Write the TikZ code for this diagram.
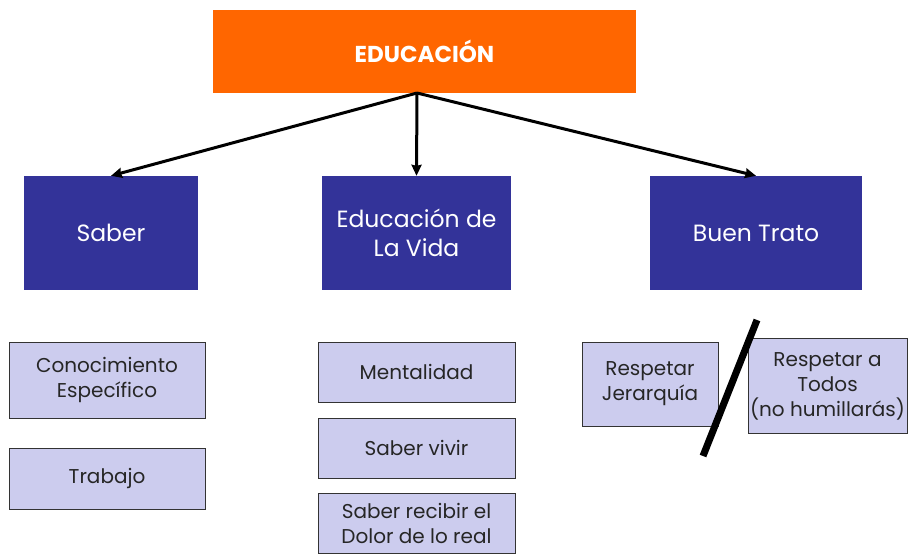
\documentclass[tikz,border=0pt]{standalone}
\usepackage{fontspec}
\setmainfont{Poppins}
\usetikzlibrary{arrows.meta}
\definecolor{orangebox}{HTML}{FF6600}
\definecolor{bluebox}{HTML}{333399}
\definecolor{lavbox}{HTML}{CCCCEE}
\definecolor{lavedge}{HTML}{333333}
\tikzset{
  topbox/.style={fill=orangebox, draw=none, text=white, font=\fontsize{23}{28}\selectfont\bfseries, inner sep=0pt, align=center},
  midbox/.style={fill=bluebox, draw=none, text=white, font=\fontsize{23.5}{29}\selectfont, inner sep=0pt, align=center, minimum height=114pt},
  leafbox/.style={fill=lavbox, draw=lavedge, line width=0.8pt, text=black!85, font=\fontsize{20}{25}\selectfont, inner sep=0pt, align=center},
  conn/.style={line width=3pt, -{Stealth[length=11pt,width=10pt,inset=1pt]}}
}
\begin{document}
\begin{tikzpicture}[x=1pt,y=-1pt]
\useasboundingbox (0,0) rectangle (908,556);
\node[topbox, minimum width=423pt, minimum height=83pt] (edu) at (424.5,51.5) {EDUCACIÓN};
\node[midbox, minimum width=174pt] (saber) at (111,233) {Saber};
\node[midbox, minimum width=189pt] (vida) at (416.5,233) {Educación de\\La Vida};
\node[midbox, minimum width=212pt] (trato) at (756,233) {Buen Trato};
\coordinate (hub) at (417,93);
\draw[conn] (hub) -- (saber.north);
\draw[conn] (hub) -- (vida.north);
\draw[conn] (hub) -- (trato.north);
\node[leafbox, minimum width=196pt, minimum height=76pt] (conoc) at (107,380) {Conocimiento\\Específico};
\node[leafbox, minimum width=196pt, minimum height=61pt] (trab) at (107,478.5) {Trabajo};
\node[leafbox, minimum width=197pt, minimum height=60pt] (ment) at (416.5,372) {Mentalidad};
\node[leafbox, minimum width=197pt, minimum height=60pt] (vivir) at (416.5,448) {Saber vivir};
\node[leafbox, minimum width=197pt, minimum height=60pt] (dolor) at (416.5,523) {Saber recibir el\\Dolor de lo real};
\node[leafbox, minimum width=136pt, minimum height=84pt] (jer) at (650,384) {Respetar\\Jerarquía};
\node[leafbox, minimum width=159pt, minimum height=95pt] (todos) at (827.5,386) {Respetar a\\Todos\\(no humillarás)};
\coordinate (slashtop) at (757,320);
\coordinate (slashbot) at (703,456);
\draw[line width=7pt] (slashtop) -- (slashbot);
\end{tikzpicture}
\end{document}
